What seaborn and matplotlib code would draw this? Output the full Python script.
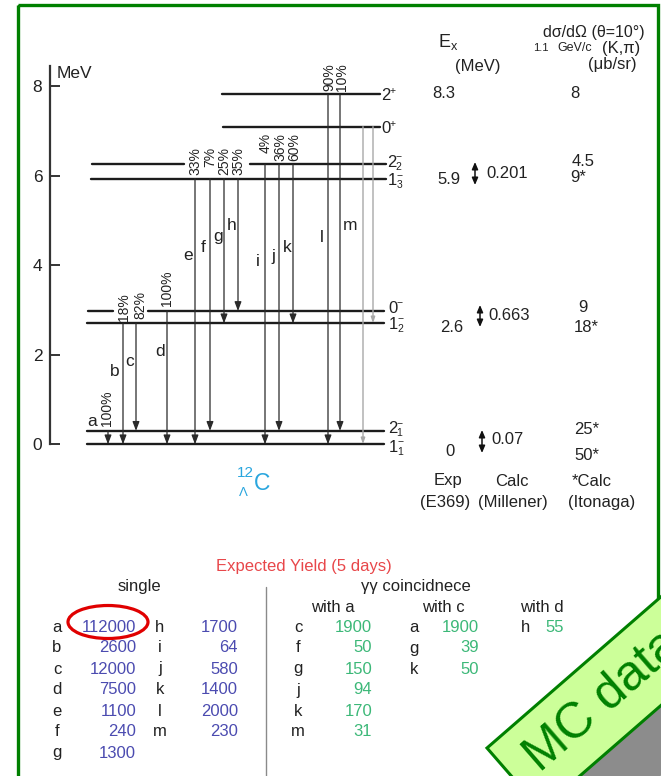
import numpy as np
import pandas as pd
import matplotlib
matplotlib.use("Agg")
import matplotlib.pyplot as plt
import seaborn as sns
from matplotlib.patches import Ellipse, Polygon, Rectangle

# ---------------- data ----------------
level_names = ["2+", "0+", "2-_2", "1-_3", "0-", "1-_2", "2-_1", "1-_1"]
level_energy = [7.82, 7.09, 6.25, 5.93, 2.975, 2.70, 0.30, 0.0]
level_spin = ["2", "0", "2", "1", "0", "1", "2", "1"]
level_parity = ["+", "+", "−", "−", "−", "−", "−", "−"]
level_index = ["", "", "2", "3", "", "2", "1", "1"]

trans_names = list("abcdefghijklm")
trans_from = ["2-_1", "1-_2", "1-_2", "0-", "1-_3", "1-_3", "1-_3", "1-_3",
              "2-_2", "2-_2", "2-_2", "2+", "2+"]
trans_to = ["1-_1", "1-_1", "2-_1", "1-_1", "1-_1", "2-_1", "1-_2", "0-",
            "1-_1", "2-_1", "1-_2", "1-_1", "2-_1"]
trans_branch = ["100%", "18%", "82%", "100%", "33%", "7%", "25%", "35%",
                "4%", "36%", "60%", "90%", "10%"]
extra_from = ["0+", "0+"]
extra_to = ["1-_1", "1-_2"]

energy_ticks = [0, 2, 4, 6, 8]

ex_exp = ["8.3", "5.9", "2.6", "0"]
calc_spacing = ["0.201", "0.663", "0.07"]
xsec = ["8", "4.5", "9*", "9", "18*", "25*", "50*"]

single1_letters = list("abcdefg")
single1_values = [112000, 2600, 12000, 7500, 1100, 240, 1300]
single2_letters = list("hijklm")
single2_values = [1700, 64, 580, 1400, 2000, 230]
with_a_letters = list("cfgjkm")
with_a_values = [1900, 50, 150, 94, 170, 31]
with_c_letters = ["a", "g", "k"]
with_c_values = [1900, 39, 50]
with_d_letters = ["h"]
with_d_values = [55]

# ---------------- layout ----------------
W_PX, H_PX = 661, 776
Y0_PX, PX_PER_MEV = 444.3, 44.8
level_segments = {
    "2+": [(222, 380)], "0+": [(223, 380)],
    "2-_2": [(92, 184), (250, 386)], "1-_3": [(91, 386)],
    "0-": [(88, 113), (148, 384)], "1-_2": [(87, 384)],
    "2-_1": [(87, 384)], "1-_1": [(87, 384)],
}
level_label_x = [381, 381, 387, 388, 388, 389, 388, 389]
level_label_dy = [2, 2, -2, 2, -3, 1, -2, 3]
trans_x = [108, 123, 136, 167, 195, 210, 224, 238, 265, 279, 293, 328, 340]
extra_x = [363, 373]
letter_pos = [(92, 422), (115, 371), (130, 362), (160, 352), (188, 256), (203, 247),
              (218, 237), (232, 226), (258, 261), (273, 256), (287, 248), (322, 237), (350, 226)]
pct_pos = [(107, 390), (124, 293), (140, 291), (167, 270), (195, 147), (210, 147),
           (224, 147), (238, 147), (266, 133), (280, 133), (294, 133), (329, 63), (342, 63)]

sns.set_theme(style="white")
plt.rcParams["font.family"] = ["Liberation Sans", "DejaVu Sans"]
plt.rcParams["mathtext.fontset"] = "custom"
plt.rcParams["mathtext.rm"] = "Liberation Sans"
plt.rcParams["mathtext.it"] = "Liberation Sans:italic"
plt.rcParams["mathtext.bf"] = "Liberation Sans:bold"

fig = plt.figure(figsize=(W_PX / 100, H_PX / 100), dpi=100)
ax = fig.add_axes([0, 0, 1, 1])
ov = fig.add_axes([0, 0, 1, 1])
ov.set_xlim(0, W_PX)
ov.set_ylim(H_PX, 0)
ov.axis("off")
ov.patch.set_alpha(0)

E = dict(zip(level_names, level_energy))

# level lines via seaborn
rows = []
seg_id = 0
for name, en in zip(level_names, level_energy):
    for (x0, x1) in level_segments[name]:
        rows.append({"x": x0, "E": en, "seg": seg_id})
        rows.append({"x": x1, "E": en, "seg": seg_id})
        seg_id += 1
df_levels = pd.DataFrame(rows)
sns.lineplot(data=df_levels, x="x", y="E", units="seg", estimator=None, sort=False,
             color="#1c1c1c", lw=1.7, ax=ax, legend=False)

ax.set_xlim(0, W_PX)
ax.set_ylim(-(H_PX - Y0_PX) / PX_PER_MEV, Y0_PX / PX_PER_MEV)
ax.set_xlabel("")
ax.set_ylabel("")
ax.grid(False)
for s in ["top", "right", "bottom"]:
    ax.spines[s].set_visible(False)
ax.spines["left"].set_position(("data", 50))
ax.spines["left"].set_bounds(0, 8.45)
ax.spines["left"].set_linewidth(1.6)
ax.spines["left"].set_color("#333333")
ax.set_xticks([])
ax.set_yticks(energy_ticks)
ax.tick_params(axis="y", left=True, direction="in", length=7, width=1.4,
               pad=5.5, labelsize=12.5, color="#333333", labelcolor="#222222")

# transitions
for x, f, t in zip(trans_x, trans_from, trans_to):
    ax.annotate("", xy=(x, E[t]), xytext=(x, E[f]),
                arrowprops=dict(arrowstyle="-|>,head_length=0.45,head_width=0.17",
                                color="#2a2a2a", lw=0.9, shrinkA=0, shrinkB=0))
for x, f, t in zip(extra_x, extra_from, extra_to):
    ax.annotate("", xy=(x, E[t]), xytext=(x, E[f]),
                arrowprops=dict(arrowstyle="-|>,head_length=0.3,head_width=0.1",
                                color="#a8a8a8", lw=1.0, shrinkA=0, shrinkB=0))

# level labels (spin, parity superscript, index subscript)
for en, sp, par, idx, lx, dy in zip(level_energy, level_spin, level_parity, level_index,
                                    level_label_x, level_label_dy):
    y = Y0_PX - PX_PER_MEV * en + dy
    ov.text(lx, y, sp, ha="left", va="center", fontsize=12, color="#222222")
    ov.text(lx + 8.5, y - 5, par, ha="left", va="center", fontsize=7.5, color="#222222")
    if idx:
        ov.text(lx + 8.5, y + 4.5, idx, ha="left", va="center", fontsize=7.5, color="#222222")

# transition letters and branching ratios
for (x, y), n in zip(letter_pos, trans_names):
    ov.text(x, y, n, ha="center", va="center", fontsize=12.5, color="#222222")
for (x, y), p in zip(pct_pos, trans_branch):
    ov.text(x, y, p, ha="center", va="top", rotation=90, fontsize=10, color="#222222")

ov.text(57, 73, "MeV", ha="left", va="center", fontsize=12.5, color="#222222")

# hypernucleus label
cyan = "#2aa6de"
ov.text(262, 483, "C", ha="center", va="center", fontsize=16.5, color=cyan)
ov.text(245, 473, "12", ha="center", va="center", fontsize=11, color=cyan)
ov.text(243, 493, "Λ", ha="center", va="center", fontsize=9.5, color=cyan)

# right-hand columns
tc = "#222222"
ov.text(438, 42, r"E$_\mathregular{x}$", ha="left", va="center", fontsize=13, color=tc)
ov.text(478, 66, "(MeV)", ha="center", va="center", fontsize=12, color=tc)
ov.text(645, 32, "dσ/dΩ (θ=10°)", ha="right", va="center", fontsize=11.5, color=tc)
ov.text(533, 48, "1.1", ha="left", va="center", fontsize=8, color=tc)
ov.text(557, 48, "GeV/c", ha="left", va="center", fontsize=9, color=tc)
ov.text(640, 48, "(K,π)", ha="right", va="center", fontsize=12, color=tc)
ov.text(637, 64, "(μb/sr)", ha="right", va="center", fontsize=12, color=tc)

for s, (x, y) in zip(ex_exp, [(444, 94), (449, 180), (452, 327), (450, 452)]):
    ov.text(x, y, s, ha="center", va="center", fontsize=12, color=tc)
for s, (x, y) in zip(calc_spacing, [(507, 173), (509, 316), (507, 440)]):
    ov.text(x, y, s, ha="center", va="center", fontsize=12, color=tc)
for s, (x, y) in zip(xsec, [(575, 94), (583, 162), (578, 177), (583, 307),
                            (586, 327), (587, 430), (587, 455)]):
    ov.text(x, y, s, ha="center", va="center", fontsize=12, color=tc)
for (x, y0, y1) in [(475, 162, 185), (480, 305, 327), (482, 430, 453)]:
    ov.annotate("", xy=(x, y0), xytext=(x, y1),
                arrowprops=dict(arrowstyle="<|-|>,head_length=0.35,head_width=0.15",
                                color="#111111", lw=1.1, shrinkA=0, shrinkB=0))

for s, (x, y) in zip(["Exp", "Calc", "*Calc", "(E369)", "(Millener)", "(Itonaga)"],
                     [(448, 481), (512, 481), (592, 481), (445, 502), (513, 502), (602, 502)]):
    ov.text(x, y, s, ha="center", va="center", fontsize=12, color=tc)

# expected yield table
ov.text(304, 567, "Expected Yield (5 days)", ha="center", va="center", fontsize=12, color="#e8474a")
ov.text(139, 587, "single", ha="center", va="center", fontsize=12, color=tc)
ov.text(416, 587, "γγ coincidnece", ha="center", va="center", fontsize=12, color=tc)
ov.text(333, 608, "with a", ha="center", va="center", fontsize=12, color=tc)
ov.text(443, 608, "with c", ha="center", va="center", fontsize=12, color=tc)
ov.text(542, 608, "with d", ha="center", va="center", fontsize=12, color=tc)
ov.plot([265.5, 265.5], [587, 776], color="#8a8a8a", lw=1.0)

blue = "#4b4bb0"
green = "#3cb878"
row_y = [627 + 21 * i for i in range(7)]
def column(letters, values, xl, xr, color):
    for i, (l, v) in enumerate(zip(letters, values)):
        ov.text(xl, row_y[i], l, ha="center", va="center", fontsize=12, color=tc)
        ov.text(xr, row_y[i], str(v), ha="right", va="center", fontsize=12, color=color)
column(single1_letters, single1_values, 57, 136, blue)
column(single2_letters, single2_values, 160, 238, blue)
column(with_a_letters, with_a_values, 298, 372, green)
column(with_c_letters, with_c_values, 414, 479, green)
column(with_d_letters, with_d_values, 525, 564, green)

ov.add_patch(Ellipse((108, 622), 80, 33, fill=False, edgecolor="#e00000", lw=2.3))

# frame
ov.add_patch(Rectangle((17.7, 5), 640.5, 820, fill=False, edgecolor="#008000", lw=2.4,
                       clip_on=True))

# MC data banner
ang = np.deg2rad(41)
u = np.array([np.cos(ang), -np.sin(ang)])
nrm = np.array([np.sin(ang), np.cos(ang)])
P1 = np.array([487.0, 748.0])
L, Wd = 320.0, 82.0
banner = np.array([P1, P1 + L * u, P1 + L * u + Wd * nrm, P1 + Wd * nrm])
ov.add_patch(Polygon(banner + np.array([0, 70]), closed=True, facecolor="#8c8c8c",
                     edgecolor="none", clip_on=True))
ov.add_patch(Polygon(banner, closed=True, facecolor="#ccff99", edgecolor="#008000",
                     lw=2.2, clip_on=True))
c = P1 + 0.5 * Wd * nrm + 118 * u
ov.text(c[0], c[1], "MC data", rotation=41, ha="center", va="center",
        fontsize=36, color="#008000", rotation_mode="anchor", clip_on=True)

fig.savefig("out.png", dpi=100)
